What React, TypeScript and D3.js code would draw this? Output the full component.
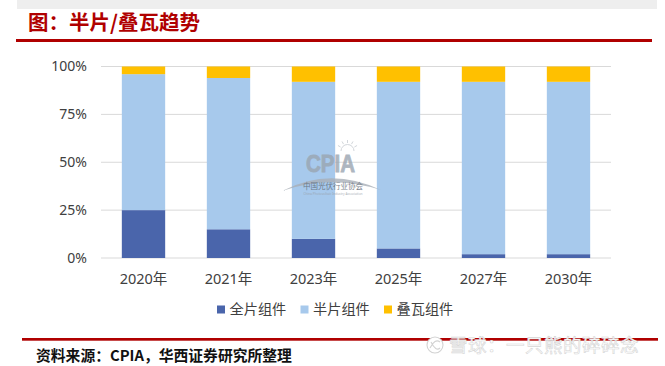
import React from 'react';
import * as d3 from 'd3';

const categories = ['2020年', '2021年', '2023年', '2025年', '2027年', '2030年'];
const fullCell = [25, 15, 10, 5, 2, 2];
const halfCell = [71, 79, 82, 87, 90, 90];
const shingled = [4, 6, 8, 8, 8, 8];
const seriesNames = ['全片组件', '半片组件', '叠瓦组件'];
const seriesKeys = ['full', 'half', 'shingled'];
const yTicks = [0, 0.25, 0.5, 0.75, 1];

const colors = ['#4A65AB', '#A7C9EC', '#FFC000'];
const W = 665;
const H = 366;
const FONT = "'Noto Sans', 'Noto Sans CJK SC', sans-serif";
const CJK = "'Noto Sans CJK SC', 'Noto Sans', sans-serif";

export default function App() {
  const rows = categories.map((c, i) => ({
    cat: c,
    full: fullCell[i] / 100,
    half: halfCell[i] / 100,
    shingled: shingled[i] / 100,
  }));
  const stacked = d3.stack<any>().keys(seriesKeys)(rows);
  const x = d3.scaleBand().domain(categories).range([101, 611]).paddingInner(0.49).paddingOuter(0.245);
  const y = d3.scaleLinear().domain([0, 1]).range([258, 66.5]);
  const fmt = d3.format('.0%');

  const legendX = [217, 300.5, 384];

  return (
    <svg width={W} height={H} style={{ position: 'absolute', left: 0, top: 0, background: '#fff' }}>
      {/* top gray strip */}
      <rect x={17} y={0} width={640} height={9} fill="#EEEEEE" />
      {/* title */}
      <text x={28} y={29.5} fontFamily={CJK} fontWeight={700} fontSize={20.5} fill="#B00000">
        图：半片/叠瓦趋势
      </text>
      <rect x={16} y={39} width={636} height={3} fill="#B00000" />

      {/* gridlines */}
      {yTicks.map((t) => (
        <line key={t} x1={101} x2={611} y1={y(t)} y2={y(t)} stroke="#D9D9D9" strokeWidth={1} />
      ))}
      {/* y labels */}
      {yTicks.map((t) => (
        <text key={'l' + t} x={87} y={y(t)} dy="0.35em" textAnchor="end" fontFamily={FONT} fontSize={14} fill="#404040">
          {fmt(t)}
        </text>
      ))}

      {/* bars */}
      {stacked.map((s, si) => (
        <g key={s.key} fill={colors[si]}>
          {s.map((d, i) => (
            <rect
              key={i}
              x={x(categories[i])}
              width={x.bandwidth()}
              y={y(d[1])}
              height={y(d[0]) - y(d[1])}
            />
          ))}
        </g>
      ))}

      {/* x labels */}
      {categories.map((c) => (
        <text key={c} x={(x(c) as number) + x.bandwidth() / 2} y={284} textAnchor="middle" fontFamily={FONT} fontSize={14.5} fill="#404040">
          {c}
        </text>
      ))}

      {/* CPIA watermark */}
      <g opacity={0.8}>
        <text x={306} y={172} textLength={49} lengthAdjust="spacingAndGlyphs" fontFamily="'Liberation Sans', 'DejaVu Sans', sans-serif" fontWeight={700} fontSize={23} fill="#9AA5B1" stroke="#9AA5B1" strokeWidth={0.8}>
          CPIA
        </text>
        <path d="M341,151 A6.5,6.5 0 0 1 354,151" fill="none" stroke="#C8CDD3" strokeWidth={1} />
        {[-60, -30, 0, 30, 60].map((a) => {
          const r = (a - 90) * Math.PI / 180;
          return <line key={a} x1={347.5 + 8 * Math.cos(r)} y1={151 + 8 * Math.sin(r)} x2={347.5 + 11 * Math.cos(r)} y2={151 + 11 * Math.sin(r)} stroke="#C8CDD3" strokeWidth={1} />;
        })}
        <path d="M282,191 Q330,166 381,190 Q330,174 282,191 Z" fill="#A9B0B8" />
        <text x={333} y={189} textAnchor="middle" fontFamily={CJK} fontSize={7.5} fill="#5E6772">
          中国光伏行业协会
        </text>
        <text x={333} y={194.5} textAnchor="middle" fontFamily={FONT} fontSize={3.2} fill="#9AA1AA">
          China Photovoltaic Industry Association
        </text>
      </g>

      {/* legend */}
      {seriesNames.map((n, i) => (
        <g key={n}>
          <rect x={legendX[i]} y={305.5} width={8} height={8} fill={colors[i]} />
          <text x={legendX[i] + 12.5} y={309.5} dy="0.35em" fontFamily={CJK} fontSize={14.2} fill="#404040">
            {n}
          </text>
        </g>
      ))}

      {/* footer */}
      <rect x={22} y={338} width={636} height={2.7} fill="#B00000" />
      <text x={36} y={361} fontFamily={CJK} fontWeight={700} fontSize={14.8} fill="#111">
        资料来源：CPIA，华西证券研究所整理
      </text>

      {/* xueqiu watermark */}
      <g>
        <circle cx={435} cy={345} r={8} fill="#fff" stroke="#D2D2D2" strokeWidth={1.1} />
        <path d="M430,348 Q435,338 440,342 M431,342 Q436,352 440,348" fill="none" stroke="#D2D2D2" strokeWidth={1.1} />
        <text x={449} y={352} fontFamily={CJK} fontSize={18.5} fill="#fff" stroke="#D6D6D6" strokeWidth={0.6} letterSpacing={0.5}>
          雪球：一只熊的碎碎念
        </text>
      </g>
    </svg>
  );
}
